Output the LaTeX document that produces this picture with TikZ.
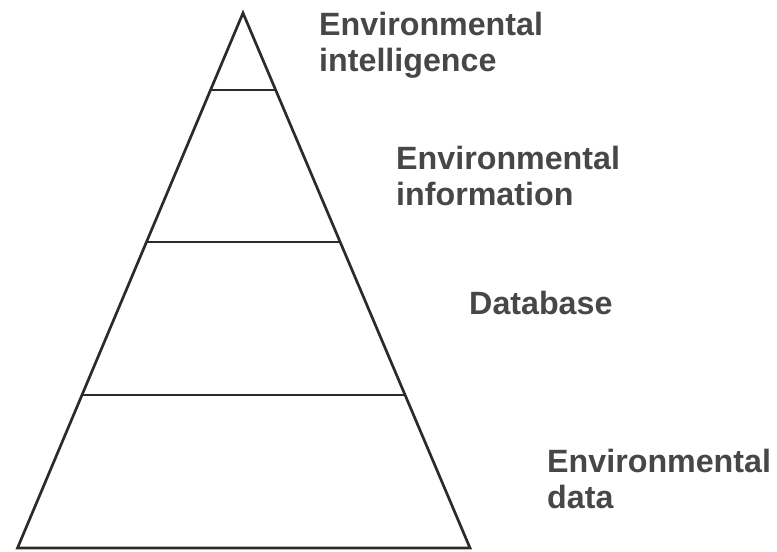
\documentclass[tikz,border=0pt]{standalone}
\usepackage{fontspec}
\setmainfont{Liberation Sans}
\definecolor{inkgray}{HTML}{2B2B2B}
\definecolor{labelgray}{HTML}{474747}

\begin{document}
\begin{tikzpicture}[x=0.03cm, y=-0.03cm,
  level/.style={draw=inkgray, line width=2.3pt, line join=miter},
  layername/.style={anchor=base west, inner sep=0pt, align=left, text=labelgray,
    font=\fontsize{27.5}{30}\selectfont\bfseries}]
\useasboundingbox (0,0) rectangle (777,551);

% outline of the pyramid
\coordinate (apex) at (243,13);
\coordinate (baseL) at (17.5,548);
\coordinate (baseR) at (470,548);
\draw[level] (apex) -- (baseL) -- (baseR) -- cycle;

% dividing lines between the levels
\coordinate (l1) at (210,90);  \coordinate (r1) at (276,90);
\coordinate (l2) at (146,242); \coordinate (r2) at (340,242);
\coordinate (l3) at (82,395);  \coordinate (r3) at (405,395);
\draw[level] (l1) -- (r1) (l2) -- (r2) (l3) -- (r3);

% level names (base anchor sits on the last line)
\node[layername] (intel) at (319,71) {Environmental\\intelligence};
\node[layername] (info) at (396,205) {Environmental\\information};
\node[layername] (dbase) at (469,314) {Database};
\node[layername] (edata) at (547,508) {Environmental\\data};
\end{tikzpicture}
\end{document}
